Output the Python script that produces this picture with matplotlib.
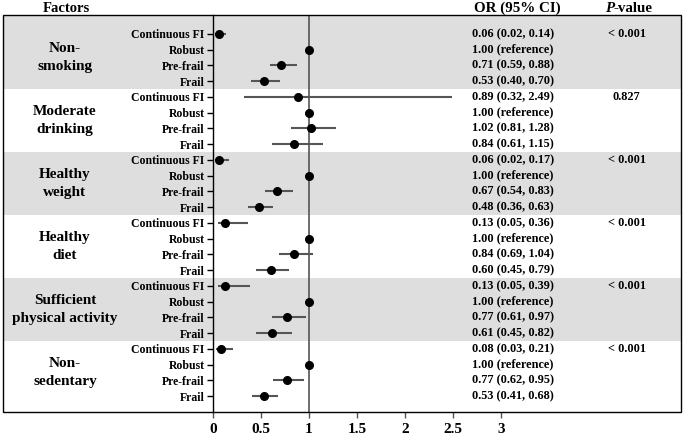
import numpy as np
import matplotlib
matplotlib.use('Agg')
import matplotlib.pyplot as plt
from matplotlib.patches import Rectangle
import matplotlib.transforms as mtransforms

plt.rcParams['font.family'] = ['Liberation Serif', 'DejaVu Serif']
plt.rcParams['font.weight'] = 'bold'

groups = ['Non-\nsmoking', 'Moderate\ndrinking', 'Healthy\nweight', 'Healthy\ndiet',
          'Sufficient\nphysical activity', 'Non-\nsedentary']
subgroups = ['Continuous FI', 'Robust', 'Pre-frail', 'Frail']
pvals = ['< 0.001', '0.827', '< 0.001', '< 0.001', '< 0.001', '< 0.001']

# OR, lower CI, upper CI (robust = reference)
or_vals = [0.06, 1.00, 0.71, 0.53,
           0.89, 1.00, 1.02, 0.84,
           0.06, 1.00, 0.67, 0.48,
           0.13, 1.00, 0.84, 0.60,
           0.13, 1.00, 0.77, 0.61,
           0.08, 1.00, 0.77, 0.53]
lo_vals = [0.02, np.nan, 0.59, 0.40,
           0.32, np.nan, 0.81, 0.61,
           0.02, np.nan, 0.54, 0.36,
           0.05, np.nan, 0.69, 0.45,
           0.05, np.nan, 0.61, 0.45,
           0.03, np.nan, 0.62, 0.41]
hi_vals = [0.14, np.nan, 0.88, 0.70,
           2.49, np.nan, 1.28, 1.15,
           0.17, np.nan, 0.83, 0.63,
           0.36, np.nan, 1.04, 0.79,
           0.39, np.nan, 0.97, 0.82,
           0.21, np.nan, 0.95, 0.68]
xticks = [0, 0.5, 1, 1.5, 2, 2.5, 3]

or_vals = np.array(or_vals)
lo_vals = np.array(lo_vals)
hi_vals = np.array(hi_vals)
ypos = np.arange(len(or_vals))

fig = plt.figure(figsize=(6.85, 4.37), dpi=100)
W, H = 685, 437
ax = fig.add_axes([3 / W, (H - 412) / H, (681 - 3) / W, (412 - 15) / H])
ax.set_xlim(-2.1875, 4.875)
ax.set_ylim(24.0, -1.2)

# shaded bands for alternating groups
for g in range(len(groups)):
    if g % 2 == 0:
        ax.axhspan(4 * g - 0.5 - (1 if g == 0 else 0), 4 * g + 3.5, color='#dedede', zorder=0, lw=0)

ax.axvline(1, color='#555555', lw=1.2, zorder=1)

# CI lines and points
ax.hlines(ypos, lo_vals, hi_vals, color='#555555', lw=1.5, zorder=2)
ax.plot(or_vals, ypos, 'o', color='black', ms=5.5, zorder=3)

# axes styling
for s in ['top', 'right', 'bottom']:
    ax.spines[s].set_visible(False)
ax.spines['left'].set_position(('data', 0))
ax.spines['left'].set_color('black')
ax.spines['left'].set_linewidth(1.0)
ax.add_patch(Rectangle((0, 0), 1, 1, transform=ax.transAxes, fill=False,
                       edgecolor='black', lw=1.0, clip_on=False, zorder=5))

ax.set_yticks(ypos)
ax.set_yticklabels(subgroups * len(groups), fontsize=8.5, fontweight='bold')
ax.tick_params(axis='y', direction='out', length=4, width=1, pad=2)

ax.set_xticks(xticks)
ax.set_xticklabels([('%g' % t) for t in xticks], fontsize=11, fontweight='bold')
ax.tick_params(axis='x', direction='out', length=4, width=1, color='#555555', pad=4)

trans = mtransforms.blended_transform_factory(ax.transAxes, ax.transData)
for g, name in enumerate(groups):
    ax.text(62 / 678, 4 * g + 1.5, name, transform=trans, ha='center', va='center',
            fontsize=11, fontweight='bold', linespacing=1.5)
    ax.text(4.31, 4 * g, pvals[g], ha='center', va='center', fontsize=8.8, fontweight='bold')

for i in range(len(or_vals)):
    if np.isnan(lo_vals[i]):
        s = '%.2f (reference)' % or_vals[i]
    else:
        s = '%.2f (%.2f, %.2f)' % (or_vals[i], lo_vals[i], hi_vals[i])
    ax.text(2.70, ypos[i], s, ha='left', va='center', fontsize=8.8, fontweight='bold')

# headers
fig.text(66 / W, 1 - 8 / H, 'Factors', ha='center', va='center', fontsize=10.5, fontweight='bold')
fig.text(517 / W, 1 - 8 / H, 'OR (95% CI)', ha='center', va='center', fontsize=10.8, fontweight='bold')
fig.text(614 / W, 1 - 8 / H, 'P', ha='right', va='center', fontsize=10.8, fontweight='bold', style='italic')
fig.text(613 / W, 1 - 8 / H, '-value', ha='left', va='center', fontsize=10.8, fontweight='bold')

fig.savefig('out.png', dpi=100)
